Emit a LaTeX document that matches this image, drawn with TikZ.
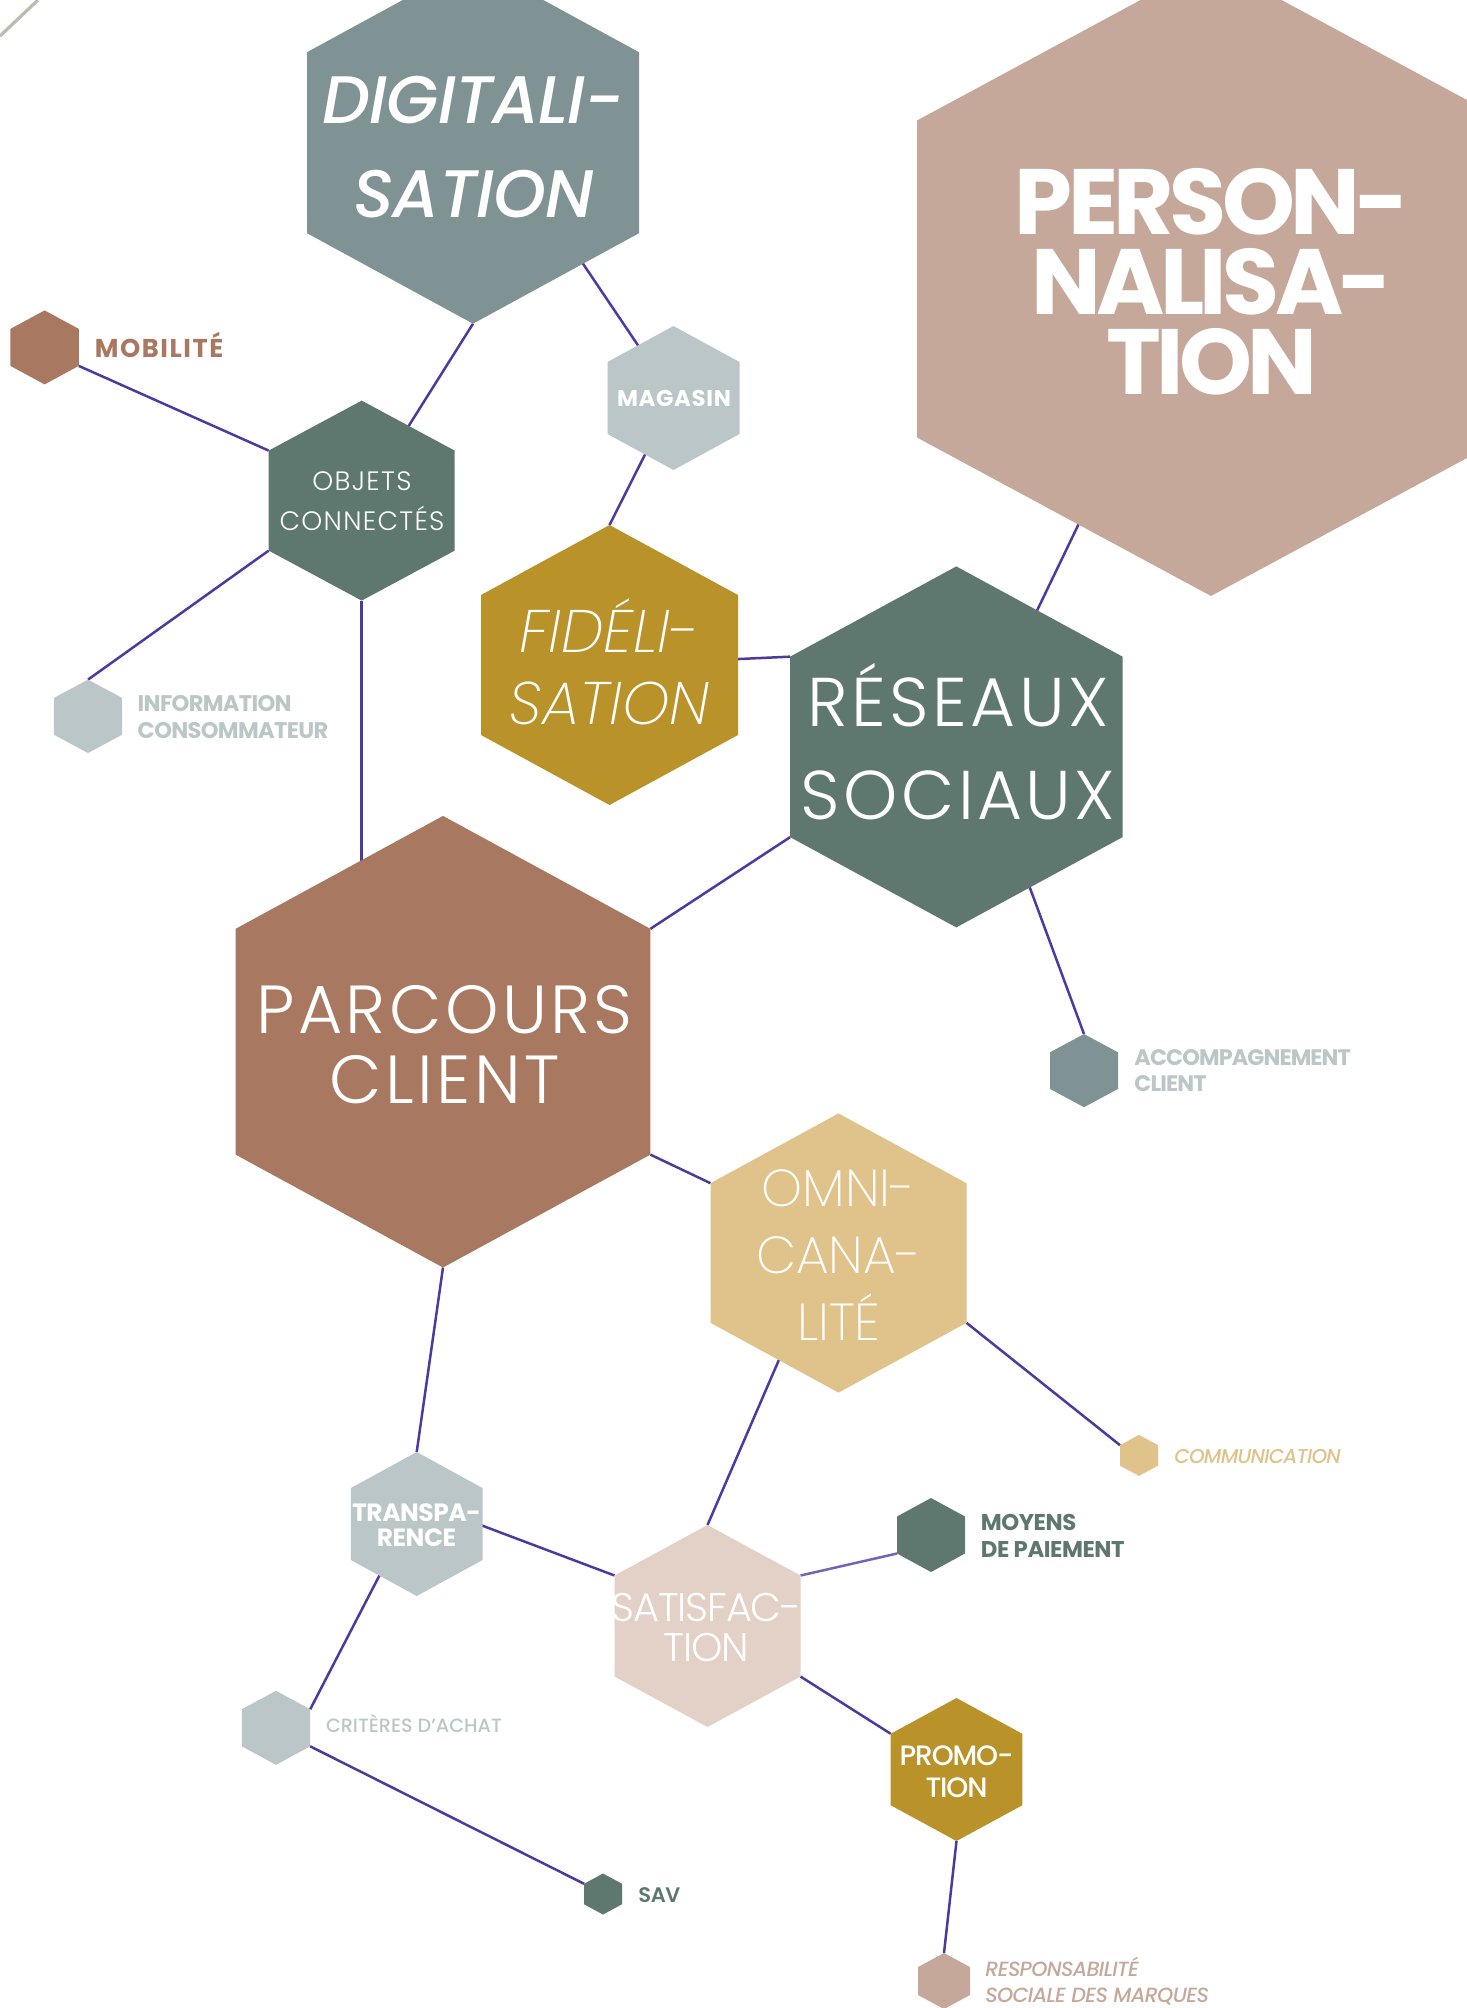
\documentclass[tikz,border=0pt]{standalone}
\usepackage{fontspec}
\newfontfamily\fXLight{Poppins ExtraLight}
\newfontfamily\fXLightIt{Poppins ExtraLight Italic}
\newfontfamily\fLight{Poppins Light}
\newfontfamily\fMed{Poppins Medium}
\newfontfamily\fMedIt{Poppins Medium Italic}
\newfontfamily\fSemi{Poppins SemiBold}
\newfontfamily\fSemiIt{Poppins SemiBold Italic}
\newfontfamily\fBold{Poppins Bold}
\newcommand\lsp[1]{\addfontfeatures{LetterSpace=#1}}
\definecolor{cDigi}{HTML}{7F9294}
\definecolor{cPerso}{HTML}{C5A89A}
\definecolor{cGreen}{HTML}{5E786F}
\definecolor{cBrown}{HTML}{A87860}
\definecolor{cLight}{HTML}{BAC6C7}
\definecolor{cMustard}{HTML}{B9922A}
\definecolor{cSand}{HTML}{E0C38A}
\definecolor{cPink}{HTML}{E3D1C7}
\definecolor{cLine}{HTML}{4E3A9E}
\definecolor{cLineL}{HTML}{7563B4}
\definecolor{cCorner}{HTML}{BDBBAF}
\pgfdeclarelayer{bg}
\pgfsetlayers{bg,main}
\newcommand\myhex[6]{%
  \fill[#6] (#2-#4,#3-#5/2) -- (#2,#3-#5) -- (#2+#4,#3-#5/2) -- (#2+#4,#3+#5/2) -- (#2,#3+#5) -- (#2-#4,#3+#5/2) -- cycle;
  \coordinate (#1) at (#2,#3);
  \coordinate (#1-t) at (#2,#3-#5);
  \coordinate (#1-b) at (#2,#3+#5);
  \coordinate (#1-ul) at (#2-#4,#3-#5/2);
  \coordinate (#1-ur) at (#2+#4,#3-#5/2);
  \coordinate (#1-ll) at (#2-#4,#3+#5/2);
  \coordinate (#1-lr) at (#2+#4,#3+#5/2);
}
\tikzset{
  link/.style={draw=cLine, line width=1.25pt},
  lbl/.style={inner sep=0pt, text depth=0pt, align=center, text=white, anchor=south},
  side/.style={inner sep=0pt, text depth=0pt, align=left, anchor=south west},
}
\begin{document}
\begin{tikzpicture}[x=0.5pt,y=-0.5pt]
\useasboundingbox (0,0) rectangle (1467,2008);
% decorative corner line
\draw[cCorner, line width=1.6pt] (0,36) -- (38,0);
% hexagons
\myhex{digi}{473}{142.7}{166}{181}{cDigi}
\myhex{perso}{1211}{279}{294}{317}{cPerso}
\myhex{obj}{361.7}{500.6}{93}{100}{cGreen}
\myhex{mob}{44.6}{347.4}{34.2}{37}{cBrown}
\myhex{mag}{673.5}{398}{66}{72}{cLight}
\myhex{fid}{609.5}{665}{128.5}{140}{cMustard}
\myhex{res}{956.3}{746.9}{166.2}{180.5}{cGreen}
\myhex{parc}{443}{1041.7}{207.4}{225.8}{cBrown}
\myhex{info}{88}{716.3}{34.2}{36.7}{cLight}
\myhex{acc}{1084}{1070.6}{34}{36.6}{cDigi}
\myhex{omni}{838.5}{1253}{128}{139.6}{cSand}
\myhex{satis}{707.5}{1626}{93}{101}{cPink}
\myhex{transp}{416.7}{1524}{65.8}{72}{cLight}
\myhex{moy}{931}{1535}{34}{37}{cGreen}
\myhex{comm}{1139}{1455.4}{19}{20.5}{cSand}
\myhex{promo}{956.5}{1769.5}{65.8}{71.5}{cMustard}
\myhex{crit}{276}{1727.8}{34.2}{37}{cLight}
\myhex{sav}{603}{1894}{19}{20.5}{cGreen}
\myhex{resp}{944}{1981}{26}{28}{cPerso}
% inner end points of connectors
\coordinate (digiM) at (556.9,225);
\coordinate (persoP) at (1097.7,484.5);
\coordinate (resP) at (1017.8,650.5);
\coordinate (resQ) at (1013.7,844);
\coordinate (omniP) at (799.8,1311.6);
\coordinate (transpP) at (470,1521);
\coordinate (transpQ) at (399.7,1536.3);
% connectors
\begin{pgfonlayer}{bg}
\draw[link] (digi-b) -- (obj);
\draw[link] (mag) -- (digiM);
\draw[link] (mag) -- (fid-t);
\draw[link] (mob-lr) -- (obj-ul);
\draw[link] (obj-ll) -- (info-t);
\draw[link] (obj-b) -- (obj-b |- parc);
\draw[link] (res-ul) -- (fid);
\draw[link] (persoP) -- (resP);
\draw[link] (res-ll) -- (parc-ur);
\draw[link] (acc-t) -- (resQ);
\draw[link] (parc-lr) -- (omni-ul);
\draw[link] (parc-b) -- (transp-t);
\draw[link] (satis-t) -- (omniP);
\draw[link] (omni-lr) -- (comm-ul);
\draw[link] (satis-ul) -- (transpP);
\draw[link, draw=cLineL] (satis-ur) -- (moy-ll);
\draw[link] (satis-lr) -- (promo-ul);
\draw[link] (promo-b) -- (resp-t);
\draw[link] (crit-ur) -- (transpQ);
\draw[link] (crit-lr) -- (sav-ul);
\end{pgfonlayer}
% texts in hexagons
\node[lbl, font=\fontsize{33.6}{47}\fMedIt\lsp{-1}] (tdigi) at (473.5,217.5) {DIGITALI-\\SATION};
\node[lbl, font=\fontsize{46.4}{40}\fBold\lsp{-5}] (tperso) at (1212,394.6) {PERSON-\\NALISA-\\TION};
\node[lbl, font=\fontsize{13.3}{19.8}\fLight\lsp{5}] (tobj) at (362,530.6) {OBJETS\\CONNECTÉS};
\node[lbl, font=\fontsize{11.4}{13}\fBold\lsp{3}] (tmag) at (674,407) {MAGASIN};
\node[lbl, font=\fontsize{30}{36}\fXLightIt] (tfid) at (609.5,725) {FIDÉLI-\\SATION};
\node[lbl, font=\fontsize{34.5}{46.5}\fLight\lsp{5}] (tres) at (958,820) {RÉSEAUX\\SOCIAUX};
\node[lbl, font=\fontsize{34}{35}\fLight\lsp{5}] (tparc) at (444.5,1103.8) {PARCOURS\\CLIENT};
\node[lbl, font=\fontsize{26}{33.3}\fXLight] (tomni) at (838.7,1340.4) {OMNI-\\CANA-\\LITÉ};
\node[lbl, font=\fontsize{20}{20}\fLight\lsp{-3}] (tsatis) at (706.5,1662) {SATISFAC-\\TION};
\node[lbl, font=\fontsize{12.5}{12.5}\fBold\lsp{-2}] (ttransp) at (416.5,1546.8) {TRANSPA-\\RENCE};
\node[lbl, font=\fontsize{14}{16}\fMed\lsp{-4}] (tpromo) at (956.5,1797.6) {PROMO-\\TION};
% side labels
\node[side, text=cBrown, font=\fontsize{12.9}{15}\fBold\lsp{6}] (tmob) at (94.4,358) {MOBILITÉ};
\node[side, text=cLight, font=\fontsize{11.3}{13.5}\fBold\lsp{-3}] (tinfo) at (137.3,738.6) {INFORMATION\\CONSOMMATEUR};
\node[side, text=cLight, font=\fontsize{11.2}{13}\fBold\lsp{-4}] (tacc) at (1134,1092) {ACCOMPAGNEMENT\\CLIENT};
\node[side, text=cSand, font=\fontsize{10}{12}\fMedIt\lsp{-4}] (tcomm) at (1174,1463.6) {COMMUNICATION};
\node[side, text=cGreen, font=\fontsize{11.4}{13.5}\fBold\lsp{-2}] (tmoy) at (980.5,1557.4) {MOYENS\\DE PAIEMENT};
\node[side, text=cLight, font=\fontsize{9.6}{12}\fMed] (tcrit) at (325.6,1733.3) {CRITÈRES D’ACHAT};
\node[side, text=cGreen, font=\fontsize{10.5}{13}\fSemi\lsp{-2}] (tsav) at (638,1902.5) {SAV};
\node[side, text=cPerso, font=\fontsize{10.3}{13}\fMedIt\lsp{-3}] (tresp) at (985,2003) {RESPONSABILITÉ\\SOCIALE DES MARQUES};
\end{tikzpicture}
\end{document}
